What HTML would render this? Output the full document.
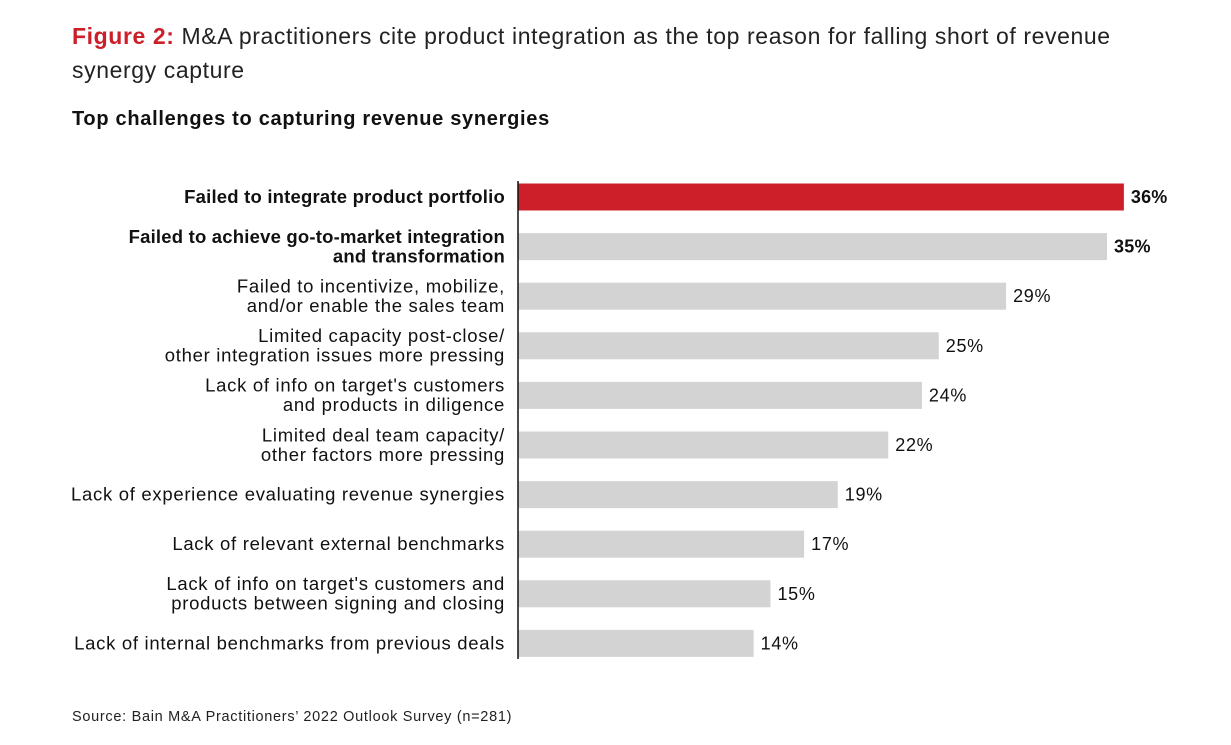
<!DOCTYPE html>
<html><head><meta charset="utf-8">
<style>
body{margin:0;width:1231px;height:745px;background:#fff;font-family:"Liberation Sans",sans-serif;color:#111;position:relative;overflow:hidden}
#title{position:absolute;left:72px;top:19px;width:1120px;font-size:23px;letter-spacing:0.6px;line-height:34px;color:#222}
#title b{color:#cc1f2a}
#subtitle{position:absolute;left:72px;top:108px;font-size:20px;letter-spacing:0.7px;font-weight:bold}
#source{position:absolute;left:72px;top:709px;font-size:14.5px;letter-spacing:0.7px;color:#222}
svg{position:absolute;left:0;top:0}
svg text{letter-spacing:0.7px}
svg text.b{letter-spacing:0.2px}
</style></head><body>
<div id="title"><b>Figure 2:</b> M&amp;A practitioners cite product integration as the top reason for falling short of revenue synergy capture</div>
<div id="subtitle">Top challenges to capturing revenue synergies</div>
<div id="source">Source: Bain M&amp;A Practitioners’ 2022 Outlook Survey (n=281)</div>
<svg id="chart" width="1231" height="745"></svg>
<script>
const labels=[
["Failed to integrate product portfolio"],
["Failed to achieve go-to-market integration","and transformation"],
["Failed to incentivize, mobilize,","and/or enable the sales team"],
["Limited capacity post-close/","other integration issues more pressing"],
["Lack of info on target's customers","and products in diligence"],
["Limited deal team capacity/","other factors more pressing"],
["Lack of experience evaluating revenue synergies"],
["Lack of relevant external benchmarks"],
["Lack of info on target's customers and","products between signing and closing"],
["Lack of internal benchmarks from previous deals"]];
const values=[36,35,29,25,24,22,19,17,15,14];
const boldRows=[true,true,false,false,false,false,false,false,false,false];
const ns="http://www.w3.org/2000/svg";
const svg=document.getElementById('chart');
const x0=518, pxPer=16.83, y0=197, step=49.6, bh=27;
const xs=v=>x0+v*pxPer, ys=i=>y0+i*step;
function mk(t,a){const e=document.createElementNS(ns,t);for(const k in a)e.setAttribute(k,a[k]);svg.appendChild(e);return e;}
values.forEach((v,i)=>{
 const c=ys(i);
 const r=mk('rect',{x:x0,y:c-bh/2,width:xs(v)-x0,height:bh,fill:i==0?'#cc1f2a':'#d3d3d3'});
 
 
 const t=mk('text',{x:xs(v)+7,y:c+6,'font-size':18,'font-weight':boldRows[i]?'bold':'normal',fill:'#111'});
 if(boldRows[i]) t.setAttribute('class','b');
 t.textContent=v+'%';
 
 
 const lines=labels[i];
 lines.forEach((s,j)=>{
  const ly=c+6+(j-(lines.length-1)/2)*19.5;
  const l=mk('text',{x:505,y:ly,'text-anchor':'end','font-size':18.5,'font-weight':boldRows[i]?'bold':'normal',fill:'#111'});
  if(boldRows[i]) l.setAttribute('class','b');
  l.textContent=s;
  
  
 });
});
const ax=mk('line',{x1:x0,x2:x0,y1:181,y2:659,stroke:'#111','stroke-width':1.5});


</script>
</body></html>
